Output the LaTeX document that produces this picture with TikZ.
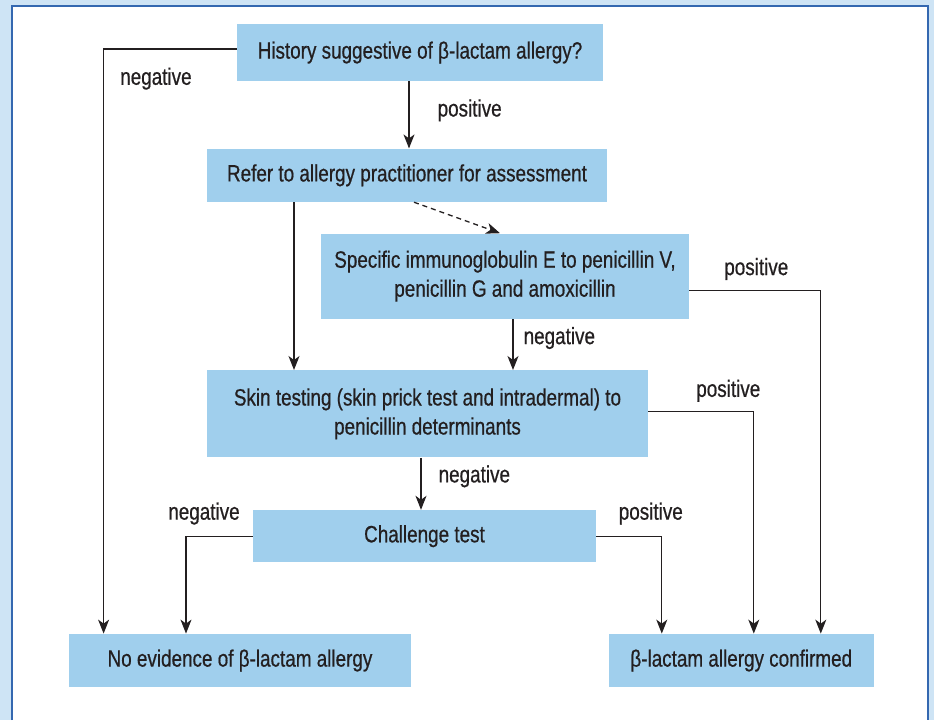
\documentclass[tikz,border=0pt]{standalone}
\usepackage{fontspec}
\setmainfont{Liberation Sans}[FakeStretch=0.8, FakeBold=0.6]
\usepackage{xcolor}
\usetikzlibrary{arrows.meta, positioning}

\definecolor{boxblue}{RGB}{160,207,237}
\definecolor{pageblue}{RGB}{206,228,245}
\definecolor{frameblue}{RGB}{52,104,176}
\definecolor{inkgray}{RGB}{35,31,32}

\begin{document}
\begin{tikzpicture}[
    x=0.5pt, y=-0.5pt,
    every node/.style={font=\fontsize{11.8}{14.5}\selectfont, text=inkgray},
    stepbox/.style={rectangle, fill=boxblue, inner sep=0pt, align=center},
    outcome/.style={inner sep=0pt},
    arrow/.style={-{Stealth[length=7pt, width=5.5pt, inset=2pt]}, line width=0.65pt, draw=inkgray},
    darrow/.style={arrow, dashed, dash pattern=on 2.5pt off 2pt},
]

%% --- Page and frame ---
\useasboundingbox (0,0) rectangle (934,720);
\fill[pageblue] (0,0) rectangle (934,720);
\fill[white] (12,6) rectangle (928,720);
\draw[frameblue, line width=1pt] (12,720) -- (12,6) -- (928,6) -- (928,720);

%% --- Steps ---
\node[stepbox, minimum width=183pt, minimum height=28.5pt] (hist) at (420,52.5)
    {History suggestive of β-lactam allergy?};
\node[stepbox, minimum width=200pt, minimum height=26.5pt,
      below=33.5pt of hist, xshift=-6.5pt] (refer)
    {Refer to allergy practitioner for assessment};
\node[stepbox, minimum width=184pt, minimum height=42.5pt,
      below=15.5pt of refer, xshift=49pt] (sige)
    {Specific immunoglobulin E to penicillin V,\\penicillin G and amoxicillin};
\node[stepbox, minimum width=220.5pt, minimum height=43.5pt,
      below=25.5pt of sige, xshift=-38.75pt] (skin)
    {Skin testing (skin prick test and intradermal) to\\penicillin determinants};
\node[stepbox, minimum width=171.5pt, minimum height=26pt,
      below=26pt of skin, xshift=-1.5pt] (chal) {Challenge test};

%% --- Outcomes ---
\node[stepbox, minimum width=171pt, minimum height=26.5pt,
      below=35.5pt of chal, xshift=-92.25pt] (noev) {No evidence of β-lactam allergy};
\node[stepbox, minimum width=132.5pt, minimum height=26.5pt,
      right=98.5pt of noev] (conf) {β-lactam allergy confirmed};

%% --- History ---
\draw[arrow] ([yshift=1.75pt]hist.west) -| node[outcome, anchor=north west, pos=0.5,
    xshift=8pt, yshift=-9pt] (histneg) {negative} ([xshift=17.5pt]noev.north west);
\draw[arrow] ([xshift=-5.5pt]hist.south) -- node[outcome, anchor=west, xshift=14pt,
    yshift=2.25pt] (histpos) {positive} ([xshift=-5.5pt]hist.south |- refer.north);

%% --- Referral ---
\draw[arrow] ([xshift=-56.5pt]refer.south) -- ([xshift=-56.5pt]refer.south |- skin.north);
\draw[darrow] ([xshift=3.5pt]refer.south) -- ([xshift=-2.5pt]sige.north);

%% --- Specific IgE ---
\draw[arrow] ([yshift=-7.25pt]sige.east) -| node[outcome, anchor=south, pos=0.5,
    xshift=-32.25pt, yshift=5pt] (sigepos) {positive} ([xshift=39.75pt]conf.north);
\draw[arrow] ([xshift=4pt]sige.south) -- node[outcome, anchor=west, xshift=5pt,
    yshift=3.25pt] (sigeneg) {negative} ([xshift=4pt]sige.south |- skin.north);

%% --- Skin testing ---
\draw[arrow] ([yshift=1.25pt]skin.east) -| node[outcome, anchor=south, pos=0.5,
    xshift=-12.75pt, yshift=4.5pt] (skinpos) {positive} ([xshift=6.25pt]conf.north);
\draw[arrow] ([xshift=-3.25pt]skin.south) -- node[outcome, anchor=west, xshift=8.5pt,
    yshift=3.75pt] (skinneg) {negative} ([xshift=-3.25pt]skin.south |- chal.north);

%% --- Challenge ---
\draw[arrow] (chal.west) -| node[outcome, anchor=south, pos=0.5,
    xshift=9pt, yshift=5.5pt] (chalneg) {negative} ([xshift=-27pt]noev.north);
\draw[arrow] (chal.east) -| node[outcome, anchor=south, pos=0.5,
    xshift=-5.5pt, yshift=5.5pt] (chalpos) {positive} ([xshift=-39.75pt]conf.north);

\end{tikzpicture}
\end{document}
